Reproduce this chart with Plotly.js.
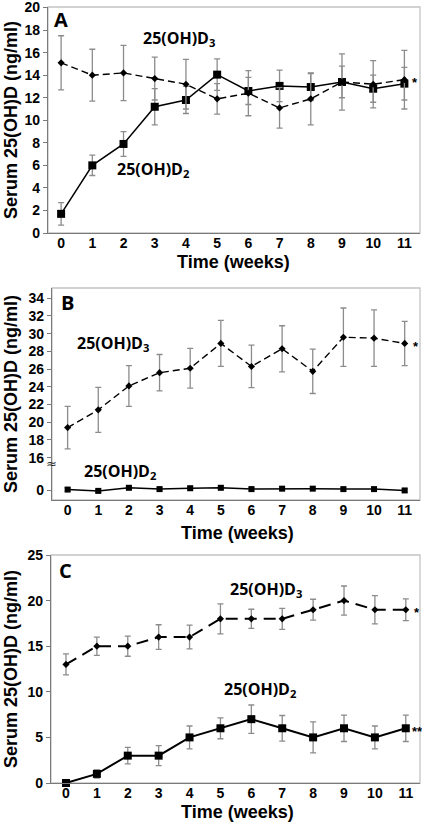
<!DOCTYPE html>
<html>
<head>
<meta charset="utf-8">
<script src="https://cdn.plot.ly/plotly-3.0.1.min.js"></script>
<style>html,body{margin:0;padding:0;background:#fff;}#chart{width:422px;height:822px;}</style>
</head>
<body>
<div id="chart"></div>
<script>
// ---- data ----
const weeks = [0,1,2,3,4,5,6,7,8,9,10,11];
const weekTicks = ['0','1','2','3','4','5','6','7','8','9','10','11'];

// Panel A
const aD3    = [15.1,14.0,14.2,13.7,13.2,11.9,12.4,11.1,11.9,13.4,13.2,13.6];
const aD3Err = [2.4,2.3,2.45,1.9,2.2,1.35,2.0,1.8,2.3,2.5,2.1,2.6];
const aD2    = [1.7,6.0,7.9,11.2,11.8,14.05,12.6,13.05,12.95,13.4,12.8,13.25];
const aD2Err = [1.0,0.9,1.1,1.6,1.2,1.4,1.2,1.4,1.2,1.4,1.2,1.45];

// Panel B
const bD3    = [19.4,21.4,24.1,25.6,26.1,28.9,26.3,28.3,25.75,29.6,29.5,28.9];
const bD3Err = [2.4,2.55,2.3,2.05,2.25,2.6,2.4,2.6,2.5,3.3,3.2,2.5];
const bD2    = [0.05,-0.1,0.25,0.1,0.2,0.25,0.1,0.15,0.15,0.1,0.1,-0.05];
const bD2Err = [0.2,0.2,0.2,0.2,0.2,0.2,0.2,0.2,0.2,0.2,0.2,0.2];

// Panel C
const cD3    = [13,15,15,16,16,18,18,18,19,20,19,19];
const cD3Err = [1.15,1.0,1.1,1.35,1.3,1.65,1.05,1.15,1.15,1.6,1.55,1.2];
const cD2    = [0,1,3,3,5,6,7,6,5,6,5,6];
const cD2Err = [0,0.45,0.9,1.1,1.25,1.15,1.55,1.4,1.7,1.45,1.25,1.45];

const yTicksA = [0,2,4,6,8,10,12,14,16,18,20];
const yTicksBUpper = [16,18,20,22,24,26,28,30,32,34];
const yTicksBLower = [0];
const yTicksC = [0,5,10,15,20,25];

// ---- helpers (pixel -> paper) ----
const W = 422, H = 822;
const px = p => p / W;
const py = p => 1 - p / H;

const errStyle = (arr) => ({type:'data', array:arr, visible:true, color:'#8c8c8c', thickness:1.3, width:3});

function d3Trace(x, y, err, xa, ya, dash, lw){
  return {x:x, y:y, xaxis:xa, yaxis:ya, type:'scatter', mode:'lines+markers', cliponaxis:false,
    line:{color:'#000', width:lw, dash:dash},
    marker:{symbol:'diamond', size:5.5, color:'#000'},
    error_y: errStyle(err), showlegend:false, hoverinfo:'skip'};
}
function d2Trace(x, y, err, xa, ya, lw, ms){
  return {x:x, y:y, xaxis:xa, yaxis:ya, type:'scatter', mode:'lines+markers', cliponaxis:false,
    line:{color:'#000', width:lw},
    marker:{symbol:'square', size:ms, color:'#000'},
    error_y: errStyle(err), showlegend:false, hoverinfo:'skip'};
}

const traces = [
  d2Trace(weeks, aD2, aD2Err, 'x', 'y', 1.5, 8),
  d3Trace(weeks, aD3, aD3Err, 'x', 'y', '7px,4px', 1.4),
  d3Trace(weeks, bD3, bD3Err, 'x2', 'y2', '7px,4px', 1.4),
  d2Trace(weeks, bD2, bD2Err, 'x2', 'y3', 1.5, 6),
  d2Trace(weeks, cD2, cD2Err, 'x3', 'y4', 2, 8),
  d3Trace(weeks, cD3, cD3Err, 'x3', 'y4', '12px,7px', 2)
];

const tickFont = {family:'Liberation Sans, Arial, sans-serif', size:14, color:'#000', weight:'bold'};
const labFont = {family:'Open Sans, sans-serif', size:16, color:'#000', weight:'bold'};
const titleFont = {family:'Liberation Sans, Arial, sans-serif', size:18, color:'#000', weight:'bold'};
const starFont = {family:'Liberation Sans, Arial', size:13, weight:'bold', color:'#000'};
const letterFont = {family:'Open Sans, sans-serif', size:20, weight:'bold', color:'#000'};
const axLine = '#7a7a7a';

function xAxis(domL, domR, anchor, range){
  return {domain:[px(domL), px(domR)], anchor:anchor, range:range, tickmode:'array',
    tickvals:weeks, ticktext:weekTicks, showgrid:false, zeroline:false, showline:true,
    linecolor:axLine, linewidth:1.2, ticks:'', ticklabelstandoff:-3, ticklabeloverflow:'allow',
    tickfont:tickFont, fixedrange:true};
}
function yAxis(top, bottom, anchor, range, tickvals){
  return {domain:[py(bottom), py(top)], anchor:anchor, range:range, tickmode:'array',
    tickvals:tickvals, showgrid:false, zeroline:false, showline:true,
    linecolor:axLine, linewidth:1.2, ticks:'outside', ticklen:4, tickcolor:axLine,
    ticklabeloverflow:'allow', tickfont:tickFont, fixedrange:true};
}

// panel geometry (px)
const A = {l:48, r:420, t:7, b:233};
const B = {l:52, r:420, t:288, brk:463, b:500};
const C = {l:51, r:420, t:555, b:783};

function paperText(text, xp, yp, font, xanchor, extra){
  return Object.assign({text:text, x:px(xp), y:py(yp), xref:'paper', yref:'paper',
    xanchor:xanchor || 'center', yanchor:'middle', showarrow:false, font:font}, extra || {});
}
function star(text, xa, ya, yv, shift){
  return {text:text, x:11, y:yv, xref:xa, yref:ya, xanchor:'center', yanchor:'middle',
    xshift:shift, yshift:-3, showarrow:false, font:starFont};
}

const layout = {
  width:W, height:H, margin:{l:0, r:0, t:0, b:0},
  paper_bgcolor:'#fff', plot_bgcolor:'#fff', showlegend:false,
  xaxis:  xAxis(A.l, A.r, 'y',  [-0.42, 11.5]),
  yaxis:  yAxis(A.t, A.b, 'x',  [0, 20.05], yTicksA),
  xaxis2: xAxis(B.l, B.r, 'y3', [-0.51, 11.5]),
  yaxis2: yAxis(B.t, B.brk, 'x2', [15.4, 35.16], yTicksBUpper),
  yaxis3: yAxis(B.brk, B.b, 'x2', [-1.13, 3.05], yTicksBLower),
  xaxis3: xAxis(C.l, C.r, 'y4', [-0.485, 11.46]),
  yaxis4: yAxis(C.t, C.b, 'x3', [0, 25], yTicksC),
  shapes: [A, B, C].map(p => ({type:'rect', xref:'paper', yref:'paper',
    x0:px(p.l), x1:px(p.r), y0:py(p.b), y1:py(p.t), line:{color:'#c4c4c4', width:1.3}, layer:'below'})),
  annotations: [
    paperText('A', 61, 19, letterFont),
    paperText('B', 67, 303, letterFont),
    paperText('C', 65, 570, letterFont),
    paperText('25(OH)D<sub>3</sub>', 141, 38, labFont, 'left'),
    paperText('25(OH)D<sub>2</sub>', 115, 169, labFont, 'left'),
    paperText('25(OH)D<sub>3</sub>', 75, 344, labFont, 'left'),
    paperText('25(OH)D<sub>2</sub>', 82, 472, labFont, 'left'),
    paperText('25(OH)D<sub>3</sub>', 228, 589, labFont, 'left'),
    paperText('25(OH)D<sub>2</sub>', 222, 689, labFont, 'left'),
    star('*', 'x', 'y', aD3[11], 11),
    star('*', 'x2', 'y2', bD3[11], 11),
    star('*', 'x3', 'y4', cD3[11], 11),
    star('**', 'x3', 'y4', cD2[11], 12),
    paperText('≈', 51, 463, {family:'DejaVu Sans', size:13, color:'#333'}),
    paperText('Serum 25(OH)D (ng/ml)', 11, (A.t+A.b)/2, titleFont, 'center', {textangle:-90}),
    paperText('Serum 25(OH)D (ng/ml)', 11, (B.t+B.b)/2, titleFont, 'center', {textangle:-90}),
    paperText('Serum 25(OH)D (ng/ml)', 11, (C.t+C.b)/2, titleFont, 'center', {textangle:-90}),
    paperText('Time (weeks)', 234, 262, titleFont),
    paperText('Time (weeks)', 237, 533, titleFont),
    paperText('Time (weeks)', 237, 812, titleFont)
  ]
};

Plotly.newPlot('chart', traces, layout, {staticPlot:true, displayModeBar:false});
</script>
</body>
</html>
